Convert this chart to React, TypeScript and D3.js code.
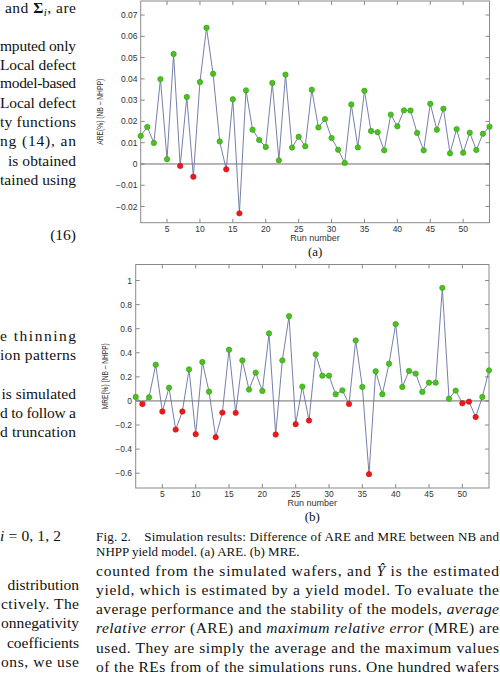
import React from "react";
import * as d3 from "d3";

// ARE(%) difference NB - NHPP, runs 1..54
const areValues = [
  0.0132, 0.0174, 0.0099, 0.0399, 0.0022, 0.0517, -0.0009, 0.0315, -0.006, 0.0385,
  0.064, 0.0424, 0.0106, -0.0025, 0.0304, -0.0232, 0.0346, 0.0161, 0.0113, 0.008,
  0.0381, 0.0017, 0.042, 0.0077, 0.0128, 0.0083, 0.0349, 0.0172, 0.0211, 0.0122,
  0.0067, 0.0005, 0.028, 0.0078, 0.0344, 0.0155, 0.0149, 0.0064, 0.0232, 0.0177,
  0.0252, 0.0251, 0.0146, 0.0064, 0.0283, 0.0161, 0.026, 0.005, 0.0164, 0.0053,
  0.0147, 0.0066, 0.0142, 0.0175,
];

// MRE(%) difference NB - NHPP, runs 1..54
const mreValues = [
  0.033, -0.025, 0.03, 0.301, -0.088, 0.11, -0.238, -0.088, 0.262, -0.276,
  0.323, 0.077, -0.301, -0.097, 0.425, -0.099, 0.337, 0.094, 0.235, 0.083,
  0.561, -0.279, 0.337, 0.704, -0.193, 0.119, -0.163, 0.387, 0.21, 0.21,
  0.055, 0.088, -0.025, 0.503, 0.116, -0.608, 0.246, 0.055, 0.309, 0.638,
  0.116, 0.249, 0.227, 0.075, 0.152, 0.152, 0.939, 0.019, 0.086, -0.019,
  -0.006, -0.133, 0.033, 0.254,
];

const areTicks = [-0.02, -0.01, 0, 0.01, 0.02, 0.03, 0.04, 0.05, 0.06, 0.07];
const mreTicks = [-0.6, -0.4, -0.2, 0, 0.2, 0.4, 0.6, 0.8, 1];
const runTicks = [5, 10, 15, 20, 25, 30, 35, 40, 45, 50];
const runExtent: [number, number] = [1, 54];

const serif = "'Liberation Serif', 'Times New Roman', serif";
const sans = "'Liberation Sans', Arial, sans-serif";

const fmt = (v: number) => (v === 0 ? "0" : String(+v.toFixed(2)).replace("-", "\u2212"));

function ErrorPlot({ values, domain, ticks, box, yLabel, labelX, tickRight, tickY, runY, panel, panelY }: any) {
  const x = d3.scaleLinear().domain(runExtent).range([box.left, box.right]);
  const y = d3.scaleLinear().domain(domain).range([box.bottom, box.top]);
  const path = d3
    .line<number>()
    .x((_, i) => x(i + 1))
    .y((d) => y(d))(values);
  const tl = 4;
  const midX = (box.left + box.right) / 2;
  const midY = (box.top + box.bottom) / 2;

  return (
    <g>
      <rect x={box.left} y={box.top} width={box.right - box.left} height={box.bottom - box.top}
        fill="#fff" stroke="#8a8a8a" strokeWidth={1} />
      {/* y ticks, inward on both sides */}
      {ticks.map((t: number) => (
        <g key={"y" + t}>
          <line x1={box.left} x2={box.left + tl} y1={y(t)} y2={y(t)} stroke="#8a8a8a" />
          <line x1={box.right} x2={box.right - tl} y1={y(t)} y2={y(t)} stroke="#8a8a8a" />
          <text x={tickRight} y={y(t) + 3} textAnchor="end" fontFamily={sans} fontSize={8.5} fill="#333">
            {fmt(t)}
          </text>
        </g>
      ))}
      {runTicks.map((t) => (
        <g key={"x" + t}>
          <line x1={x(t)} x2={x(t)} y1={box.bottom} y2={box.bottom - tl} stroke="#8a8a8a" />
          <line x1={x(t)} x2={x(t)} y1={box.top} y2={box.top + tl} stroke="#8a8a8a" />
          <text x={x(t)} y={tickY} textAnchor="middle" fontFamily={sans} fontSize={8.5} fill="#333">
            {t}
          </text>
        </g>
      ))}
      <line x1={box.left} x2={box.right} y1={y(0)} y2={y(0)} stroke="#6e6e6e" strokeWidth={1} />
      <path d={path || ""} fill="none" stroke="#6670a0" strokeWidth={0.9} />
      {values.map((v: number, i: number) => (
        <circle key={i} cx={x(i + 1)} cy={y(v)} r={2.7}
          fill={v >= 0 ? "#4cc21e" : "#f01818"} stroke={v >= 0 ? "#2f9a14" : "#c81010"} strokeWidth={0.6} />
      ))}
      <text x={midX} y={runY} textAnchor="middle" fontFamily={sans} fontSize={9} fill="#333">
        Run number
      </text>
      <text transform={`translate(${labelX},${midY}) rotate(-90)`} textAnchor="middle" fontFamily={sans}
        fontSize={9} fill="#333" textLength={66} lengthAdjust="spacingAndGlyphs">
        {yLabel}
      </text>
      <text x={midX} y={panelY} textAnchor="middle" fontFamily={serif} fontSize={13} fill="#111">
        {panel}
      </text>
    </g>
  );
}

// a line of body text: justified between x0 and x1, or right aligned at x1
function Line({ y, x0, x1, anchor, size = 15.5, children }: any) {
  const props: any = {};
  if (x0 !== undefined && x1 !== undefined) {
    props.x = x0;
    props.textLength = x1 - x0;
    props.lengthAdjust = "spacing";
  } else if (anchor === "end") {
    props.x = x1;
    props.textAnchor = "end";
  } else {
    props.x = x0;
  }
  return (
    <text y={y} fontFamily={serif} fontSize={size} fill="#111" {...props}>
      {children}
    </text>
  );
}

const It = ({ children }: any) => <tspan fontStyle="italic">{children}</tspan>;

export default function App() {
  const L = 76;
  const L2 = 79;
  const R0 = 96;
  const R1 = 499;
  const rb = [575.5, 594.8, 614.1, 633.4, 652.7, 672];
  return (
    <svg width={500} height={680} viewBox="0 0 500 680"
      style={{ position: "absolute", left: 0, top: 0, background: "#fff" }}>
      <rect width={500} height={680} fill="#fff" />

      {/* left column, top */}
      <Line y={13} x0={5} x1={L}>
        and <tspan fontWeight="bold">Σ</tspan>
        <tspan fontStyle="italic" fontSize={11} dy={3}>i</tspan>
        <tspan dy={-3}>, are</tspan>
      </Line>
      <Line y={51} x0={0} x1={L}>mputed only</Line>
      <Line y={69.5} x0={0} x1={L}>Local defect</Line>
      <Line y={88} x0={0} x1={L}>model-based</Line>
      <Line y={107.5} x0={0} x1={L}>Local defect</Line>
      <Line y={127} x0={0} x1={L}>ty functions</Line>
      <Line y={146} x0={0} x1={L}>ng (14), an</Line>
      <Line y={165.5} x0={8} x1={L}>is obtained</Line>
      <Line y={184.5} x0={0} x1={L}>tained using</Line>
      <Line y={240} x1={L} anchor="end">(16)</Line>

      {/* left column, middle */}
      <Line y={341} x0={0} x1={L}>e thinning</Line>
      <Line y={360} x0={0} x1={L}>ion patterns</Line>
      <Line y={399} x1={L} anchor="end">is simulated</Line>
      <Line y={418} x0={0} x1={L}>d to follow a</Line>
      <Line y={437} x0={0} x1={L}>d truncation</Line>

      {/* left column, bottom */}
      <Line y={541} x0={0} x1={61}>
        <It>i</It> = 0, 1, 2
      </Line>
      <Line y={rb[1] - 5} x1={L2} anchor="end">distribution</Line>
      <Line y={rb[2] - 5} x0={1} x1={L2}>ctively. The</Line>
      <Line y={rb[3] - 5} x0={1} x1={L2}>onnegativity</Line>
      <Line y={rb[4] - 5} x1={L2} anchor="end">coefficients</Line>
      <Line y={rb[5] - 5} x0={1} x1={L2}>ons, we use</Line>

      <ErrorPlot
        values={areValues}
        domain={[-0.0276, 0.0766]}
        ticks={areTicks}
        box={{ left: 140.7, right: 489.5, top: 1, bottom: 222.7 }}
        yLabel="ARE(%) (NB – NHPP)"
        labelX={103}
        tickRight={137.5}
        tickY={232}
        runY={241}
        panel="(a)"
        panelY={256}
      />
      <ErrorPlot
        values={mreValues}
        domain={[-0.723, 1.133]}
        ticks={mreTicks}
        box={{ left: 135.7, right: 489, top: 264.5, bottom: 488 }}
        yLabel="MRE(%) (NB – NHPP)"
        labelX={108}
        tickRight={132}
        tickY={497}
        runY={506}
        panel="(b)"
        panelY={521}
      />

      {/* caption */}
      <Line y={541} x0={R0} x1={R1} size={13}>
        Fig. 2.{"\u2003"}Simulation results: Difference of ARE and MRE between NB and
      </Line>
      <Line y={556} x0={R0} size={13}>NHPP yield model. (a) ARE. (b) MRE.</Line>

      {/* right column */}
      <Line y={rb[0]} x0={R0} x1={R1}>
        counted from the simulated wafers, and <It>Ŷ</It> is the estimated
      </Line>
      <Line y={rb[1]} x0={R0} x1={R1}>yield, which is estimated by a yield model. To evaluate the</Line>
      <Line y={rb[2]} x0={R0} x1={R1}>
        average performance and the stability of the models, <It>average</It>
      </Line>
      <Line y={rb[3]} x0={R0} x1={R1}>
        <It>relative error</It> (ARE) and <It>maximum relative error</It> (MRE) are
      </Line>
      <Line y={rb[4]} x0={R0} x1={R1}>used. They are simply the average and the maximum values</Line>
      <Line y={rb[5]} x0={R0} x1={R1}>of the REs from of the simulations runs. One hundred wafers</Line>
    </svg>
  );
}
